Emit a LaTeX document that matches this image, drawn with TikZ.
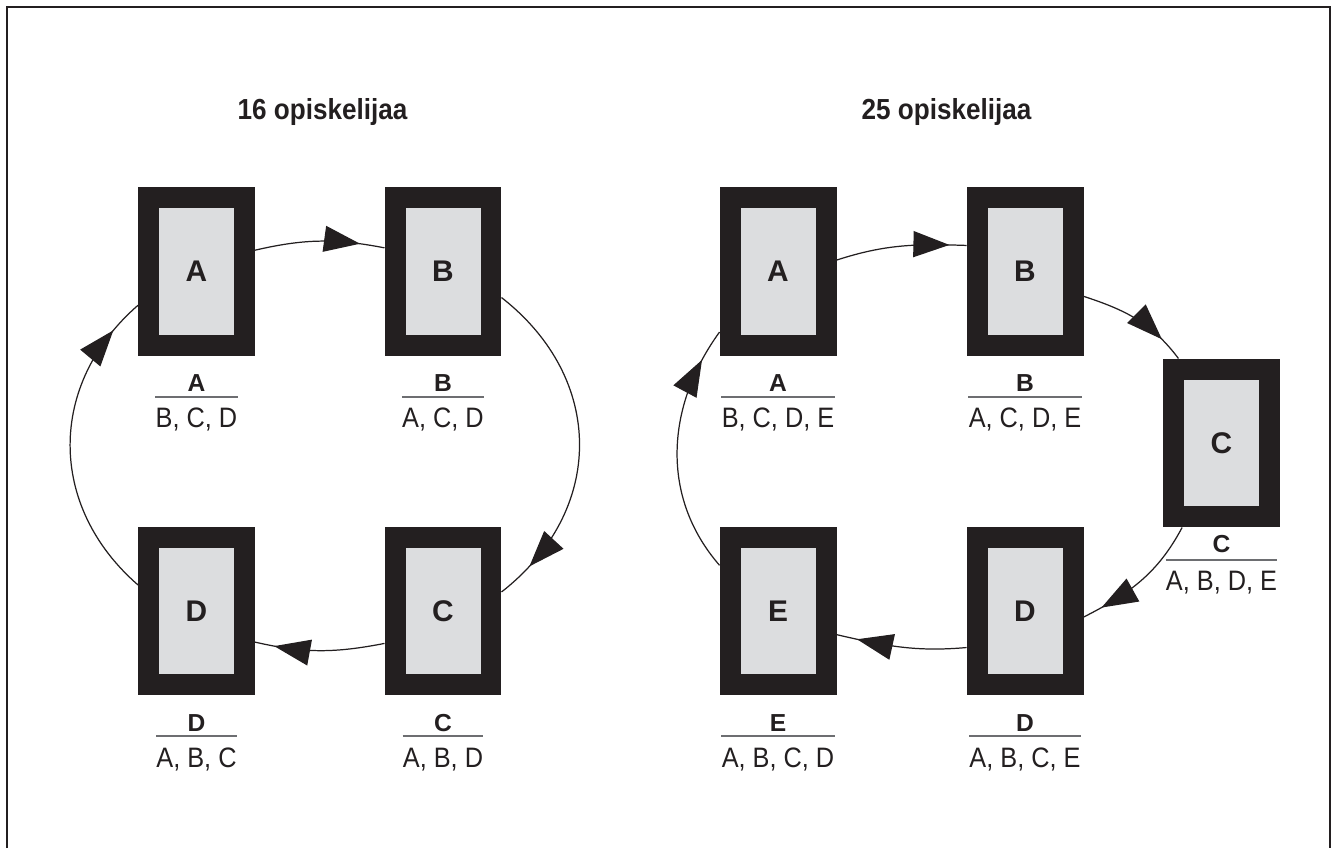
\documentclass[tikz,border=0pt]{standalone}
\usepackage{fontspec}
\setmainfont{Liberation Sans}
\newfontfamily\titlefont[FakeStretch=0.9]{Liberation Sans}
\newfontfamily\listfont[FakeStretch=0.9]{Liberation Sans}
\usetikzlibrary{arrows.meta,decorations.markings}
\definecolor{boxdark}{HTML}{231F20}
\definecolor{boxfill}{HTML}{DCDDDF}
\definecolor{rulegray}{HTML}{6D6E71}
\tikzset{
  seat/.style={draw=boxdark,fill=boxfill,line width=0.42cm,minimum width=1.92cm,minimum height=2.96cm,inner sep=0,text=boxdark,font=\seatfontsize\bfseries},
  seatname/.style={anchor=base,inner sep=0,text=boxdark,font=\namefontsize\bfseries},
  seatlist/.style={anchor=base,inner xsep=0,inner ysep=0.22cm,text height=0.4cm,text=boxdark,font=\listfont\listfontsize},
  listrule/.style={draw=rulegray,line width=0.04cm},
  heading/.style={anchor=base,inner sep=0,text=boxdark,font=\titlefont\titlefontsize\bfseries},
  pass/.style={draw=boxdark,line width=0.7pt,postaction={decorate,decoration={markings,mark=at position #1 with {\arrow{Triangle[length=0.72cm,width=0.52cm]}}}}}
}
\begin{document}
\begin{tikzpicture}[x=0.02cm,y=0.02cm]
    \providecommand{\seatfontsize}{\fontsize{17pt}{19pt}\selectfont}
    \providecommand{\namefontsize}{\fontsize{14pt}{16pt}\selectfont}
    \providecommand{\listfontsize}{\fontsize{16pt}{18pt}\selectfont}
    \providecommand{\titlefontsize}{\fontsize{16.5pt}{18pt}\selectfont}
    \useasboundingbox (0,0) rectangle (1337,848);
    % frame, open at the bottom
    \draw[boxdark,line width=0.04cm] (7,0) -- (7,841) -- (1330,841) -- (1330,0);
    % 16 students
    \node[heading] (title16) at (322.5,728) {16 opiskelijaa};
    \node[seat] (A1) at (196.5,576.5) {A};
    \node[seat] (B1) at (443,576.5) {B};
    \node[seat] (C1) at (443,237) {C};
    \node[seat] (D1) at (196.5,237) {D};
    \node[seatname] (A1name) at (196.5,456) {A};
    \node[seatlist] (A1list) at (196.5,420) {B, C, D};
    \draw[listrule] (A1list.north west) -- (A1list.north east);
    \node[seatname] (B1name) at (443,456) {B};
    \node[seatlist] (B1list) at (443,420) {A, C, D};
    \draw[listrule] (B1list.north west) -- (B1list.north east);
    \node[seatname] (C1name) at (443,117) {C};
    \node[seatlist] (C1list) at (443,80.5) {A, B, D};
    \draw[listrule] (C1list.north west) -- (C1list.north east);
    \node[seatname] (D1name) at (196.5,117) {D};
    \node[seatlist] (D1list) at (196.5,80.5) {A, B, C};
    \draw[listrule] (D1list.north west) -- (D1list.north east);
    \draw[pass=0.81] (A1.20) to[out=13,in=169] (B1.158);
    \draw[pass=0.89] (B1.-24) to[out=-38,in=38,looseness=1.15] (C1.18);
    \draw[pass=0.85] (C1.209) to[out=191,in=-13] (D1.-28);
    \draw[pass=0.89] (D1.156) to[out=139,in=221,looseness=1.1] (A1.210);
    % 25 students
    \node[heading] (title25) at (946.5,728) {25 opiskelijaa};
    \node[seat] (A2) at (778,576.5) {A};
    \node[seat] (B2) at (1025,576.5) {B};
    \node[seat] (C2) at (1221.5,405) {C};
    \node[seat] (D2) at (1025,237) {D};
    \node[seat] (E2) at (778,237) {E};
    \node[seatname] (A2name) at (778,456) {A};
    \node[seatlist] (A2list) at (778,420) {B, C, D, E};
    \draw[listrule] (A2list.north west) -- (A2list.north east);
    \node[seatname] (B2name) at (1025,456) {B};
    \node[seatlist] (B2list) at (1025,420) {A, C, D, E};
    \draw[listrule] (B2list.north west) -- (B2list.north east);
    \node[seatname] (C2name) at (1221.5,295) {C};
    \node[seatlist] (C2list) at (1221.5,257) {A, B, D, E};
    \draw[listrule] (C2list.north west) -- (C2list.north east);
    \node[seatname] (D2name) at (1025,117) {D};
    \node[seatlist] (D2list) at (1025,80.5) {A, B, C, E};
    \draw[listrule] (D2list.north west) -- (D2list.north east);
    \node[seatname] (E2name) at (778,117) {E};
    \node[seatlist] (E2list) at (778,80.5) {A, B, C, D};
    \draw[listrule] (E2list.north west) -- (E2list.north east);
    \draw[pass=0.87] (A2.11) to[out=18,in=178] (B2.156);
    \draw[pass=0.78] (B2.-23) to[out=-18,in=127] (C2.117);
    \draw[pass=0.85] (C2.245) to[out=242,in=27] (D2.-6);
    \draw[pass=0.84] (D2.212) to[out=185,in=-13] (E2.-22);
    \draw[pass=0.87] (E2.142) to[out=131,in=234] (A2.226);
\end{tikzpicture}
\end{document}
